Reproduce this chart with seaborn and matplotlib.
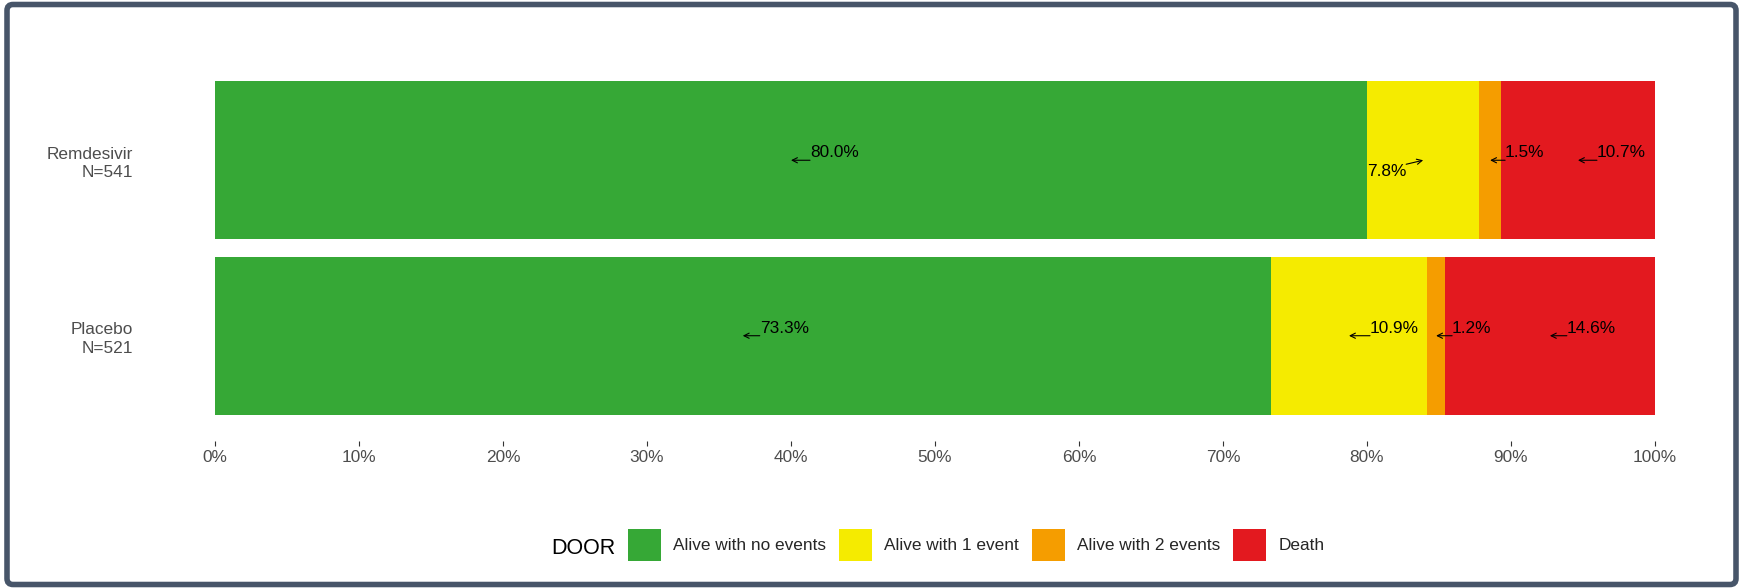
"""
DOOR outcome distribution by treatment arm (horizontal stacked bars).
"""

import numpy as np
import pandas as pd
import matplotlib
matplotlib.use('Agg')
import matplotlib.pyplot as plt
import seaborn as sns
from matplotlib.patches import Patch, FancyBboxPatch
from matplotlib.transforms import IdentityTransform

# data
arms = ['Remdesivir\nN=541', 'Placebo\nN=521']
categories = ['Alive with no events', 'Alive with 1 event', 'Alive with 2 events', 'Death']
remdesivir_pct = [80.0, 7.8, 1.5, 10.7]
placebo_pct = [73.3, 10.9, 1.2, 14.6]
x_ticks = [0, 10, 20, 30, 40, 50, 60, 70, 80, 90, 100]

colors = ['#36A836', '#F5EB00', '#F59D00', '#E3191F']
# label placement (pixels from segment midpoint): dx, dy, side
label_offsets = [
    [(19, 3, 'l'), (-17, -4, 'r'), (15, 3, 'l'), (19, 3, 'l')],
    [(17, 3, 'l'), (21, 3, 'l'), (16, 3, 'l'), (17, 3, 'l')],
]

TEXT_GREY = '#4D4D4D'


def build_frame():
    df = pd.DataFrame({
        'arm': np.repeat(arms, len(categories)),
        'category': categories * len(arms),
        'pct': remdesivir_pct + placebo_pct,
    })
    df['right'] = df.groupby('arm', sort=False)['pct'].cumsum()
    df['mid'] = df['right'] - df['pct'] / 2
    return df


def main():
    sns.set_style('white')
    plt.rcParams['font.family'] = ['Liberation Sans', 'DejaVu Sans']

    df = build_frame()

    fig = plt.figure(figsize=(17.41, 5.88), dpi=100)
    ax = fig.add_axes([143 / 1741, 0.25, (1727 - 143) / 1741, 0.6565])

    # stacked bars: draw cumulative totals from the longest down
    for cat, col in zip(categories[::-1], colors[::-1]):
        sub = df[df['category'] == cat]
        sns.barplot(data=sub, x='right', y='arm', order=arms, orient='h',
                    color=col, saturation=1, width=0.9, linewidth=0,
                    errorbar=None, ax=ax)

    for i, arm in enumerate(arms):
        sub = df[df['arm'] == arm].reset_index(drop=True)
        for j, row in sub.iterrows():
            dx, dy, side = label_offsets[i][j]
            if side == 'l':
                ha, va, rel = 'left', 'baseline', (0, 0)
            else:
                ha, va, rel = 'right', 'top', (1, 1)
            ax.annotate(f"{row['pct']:.1f}%", xy=(row['mid'], i),
                        xytext=(dx, dy), textcoords='offset pixels',
                        ha=ha, va=va, fontsize=12.4, color='black',
                        arrowprops=dict(arrowstyle='->,head_length=0.3,head_width=0.15',
                                        lw=0.8, color='black', relpos=rel,
                                        patchA=None, shrinkA=0, shrinkB=0))

    ax.set_xlim(-5, 105)
    ax.set_ylim(1.6, -0.6)
    ax.set_xticks(x_ticks)
    ax.set_xticklabels([f'{t}%' for t in x_ticks])
    ax.set_xlabel('')
    ax.set_ylabel('')
    ax.tick_params(axis='x', length=3.3, width=0.8, color='#333333', pad=3.5,
                   labelsize=12.4, labelcolor=TEXT_GREY, bottom=True)
    ax.tick_params(axis='y', length=0, pad=7, labelsize=12.4, labelcolor=TEXT_GREY)
    for lab in ax.get_yticklabels():
        lab.set_linespacing(1.3)
    sns.despine(ax=ax, left=True, bottom=True)

    handles = [Patch(facecolor=c, edgecolor='none') for c in colors]
    fig.legend(handles, categories, loc='center left',
               bbox_to_anchor=(628 / 1741, 1 - 545 / 588), ncol=4, frameon=False,
               fontsize=12.4, borderpad=0, borderaxespad=0,
               handlelength=1.9, handleheight=2.48, handletextpad=0.72,
               columnspacing=0.75)
    fig.text(551 / 1741, 1 - 548 / 588, 'DOOR', fontsize=15.5,
             ha='left', va='center', color='black')

    border = FancyBboxPatch((7, 3.5), 1729, 580,
                            boxstyle='round,pad=0,rounding_size=6',
                            transform=IdentityTransform(), fill=False,
                            edgecolor='#475569', linewidth=4)
    fig.add_artist(border)

    fig.savefig('out.png', dpi=100, facecolor='white')


if __name__ == '__main__':
    main()
